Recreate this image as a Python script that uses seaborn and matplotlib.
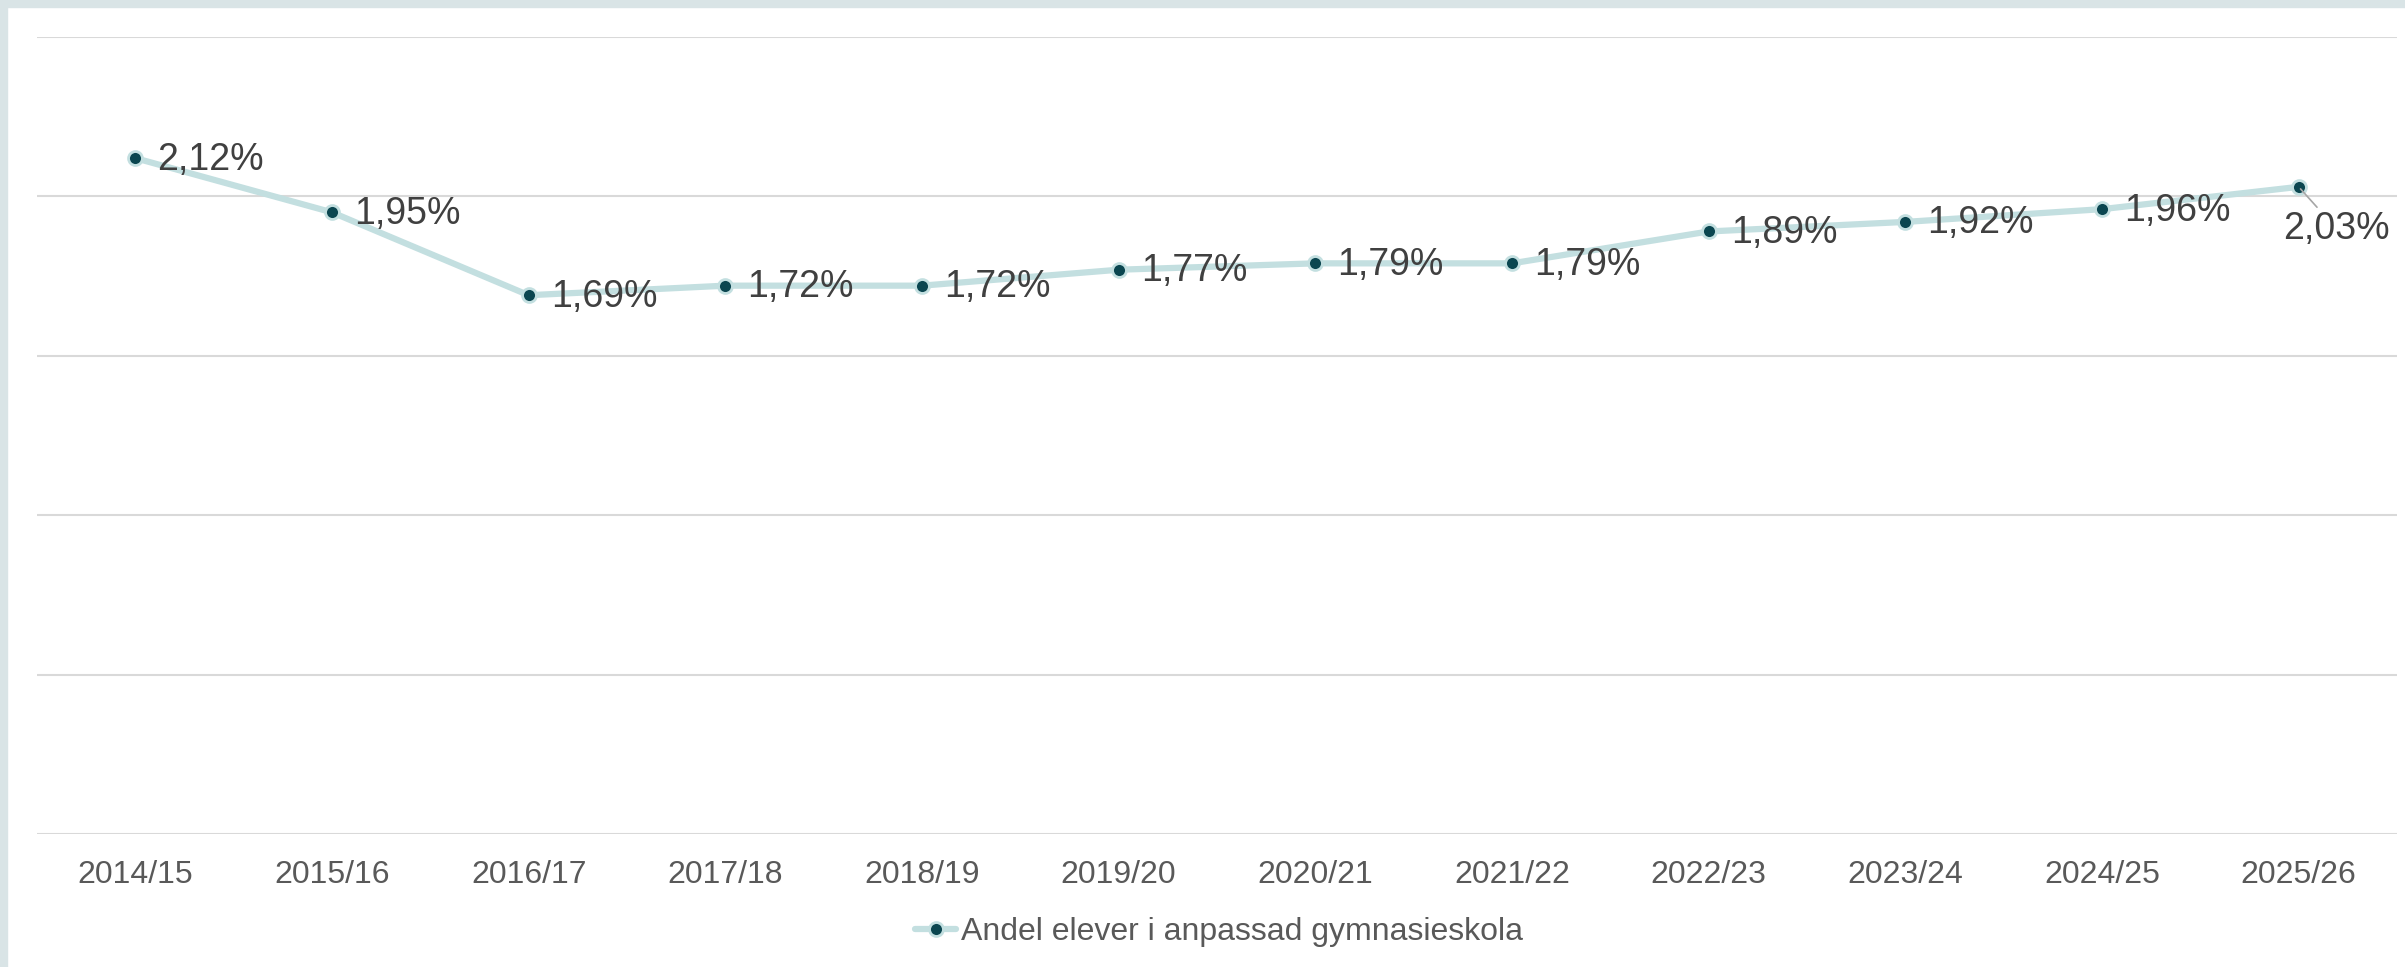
import matplotlib
matplotlib.use("Agg")
import matplotlib.pyplot as plt
import seaborn as sns
import pandas as pd
from matplotlib.lines import Line2D
from matplotlib.patches import Rectangle

years = ["2014/15", "2015/16", "2016/17", "2017/18", "2018/19", "2019/20",
         "2020/21", "2021/22", "2022/23", "2023/24", "2024/25", "2025/26"]
share = [2.12, 1.95, 1.69, 1.72, 1.72, 1.77, 1.79, 1.79, 1.89, 1.92, 1.96, 2.03]
series_name = "Andel elever i anpassad gymnasieskola"

line_col = "#c3dfe0"
dot_col = "#0b4650"

sns.set_theme(style="white")
plt.rcParams["font.family"] = ["Liberation Sans", "DejaVu Sans"]

df = pd.DataFrame({"year": years, "share": share})

fig = plt.figure(figsize=(24.05, 9.67), dpi=100)
fig.patch.set_facecolor("white")
# light frame on top and left edge
fig.patches.append(Rectangle((0, 1 - 7 / 967), 1, 7 / 967, transform=fig.transFigure,
                             color="#d9e4e6", zorder=0))
fig.patches.append(Rectangle((0, 0), 7 / 2405, 1, transform=fig.transFigure,
                             color="#d9e4e6", zorder=0))

ax = fig.add_axes([37 / 2405, 1 - 834 / 967, 2360 / 2405, 797 / 967])
sns.lineplot(data=df, x="year", y="share", ax=ax, sort=False, color=line_col,
             linewidth=4.5, marker="o", markersize=10, markerfacecolor=dot_col,
             markeredgecolor=line_col, markeredgewidth=2)

ax.set_ylim(0, 2.5)
ax.set_xlim(-0.5, len(years) - 0.5)
ax.set_yticks([0, 0.5, 1.0, 1.5, 2.0, 2.5])
ax.set_yticklabels([])
ax.grid(axis="y", color="#d9d9d9", linewidth=1.5)
ax.set_axisbelow(True)
for s in ax.spines.values():
    s.set_visible(False)
ax.tick_params(axis="x", length=0, pad=19, labelsize=23, labelcolor="#595959")
ax.tick_params(axis="y", length=0)
ax.set_xlabel("")
ax.set_ylabel("")

for i, v in enumerate(share):
    txt = f"{v:.2f}%".replace(".", ",")
    if i == len(share) - 1:
        ax.annotate(txt, (i, v), xytext=(27, -30), textcoords="offset points",
                    ha="center", va="center", fontsize=27, color="#404040",
                    arrowprops=dict(arrowstyle="-", color="#a6a6a6", lw=1.2,
                                    shrinkA=0, shrinkB=2))
    else:
        ax.annotate(txt, (i, v), xytext=(16, -1), textcoords="offset points",
                    ha="left", va="center", fontsize=27, color="#404040")

handle = Line2D([], [], color=line_col, linewidth=4.5, marker="o", markersize=10,
                markerfacecolor=dot_col, markeredgecolor=line_col, markeredgewidth=2)
fig.legend([handle], [series_name], loc="center",
           bbox_to_anchor=(1219 / 2405, 1 - 932 / 967), frameon=False,
           fontsize=23, labelcolor="#595959", handlelength=1.3, handletextpad=0.15)

fig.savefig("out.png", dpi=100)
